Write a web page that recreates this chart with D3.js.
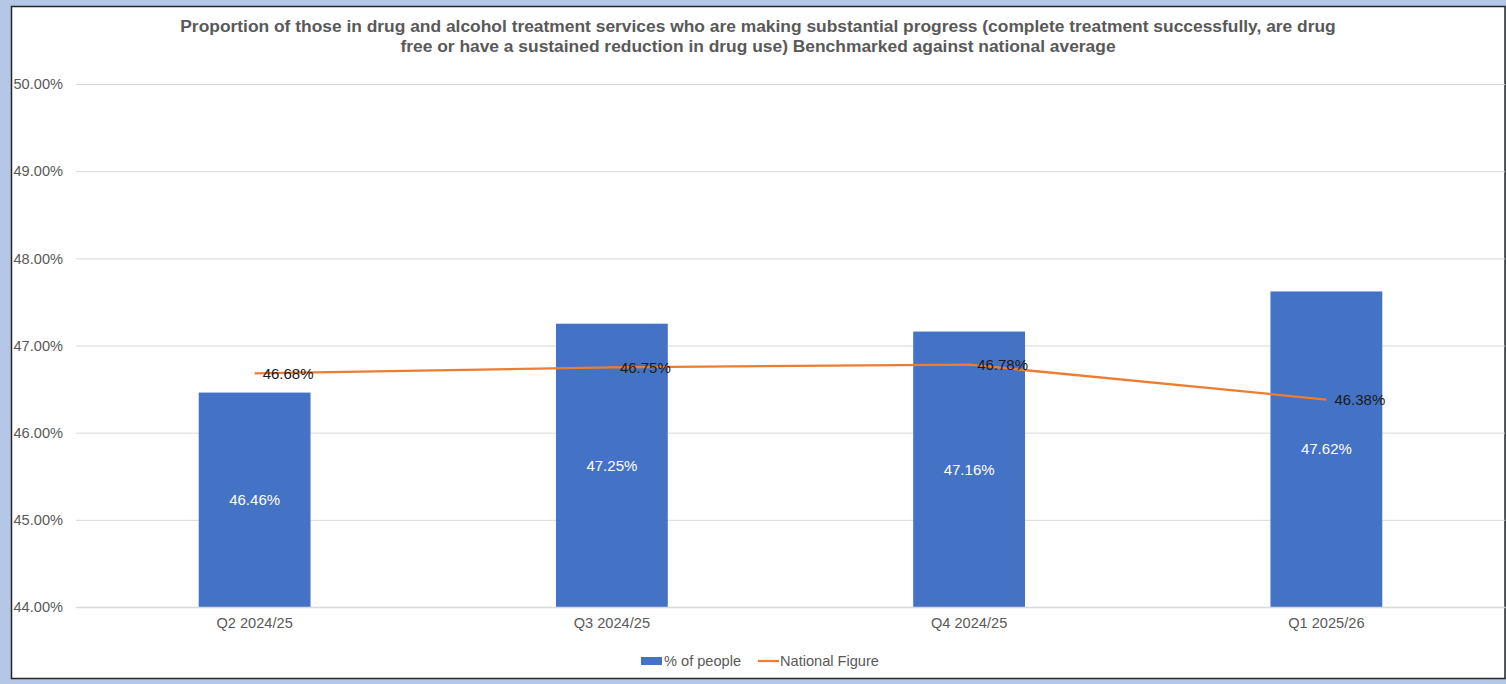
<!DOCTYPE html>
<html>
<head>
<meta charset="utf-8">
<script src="https://cdn.jsdelivr.net/npm/d3@7"></script>
<style>
  html, body { margin: 0; padding: 0; background: #b4c7e7; }
  svg { display: block; }
  text { font-family: "Liberation Sans", Arial, sans-serif; }
</style>
</head>
<body>
<svg id="chart" width="1506" height="684"></svg>
<script>
// Quarterly values
const categories = ["Q2 2024/25", "Q3 2024/25", "Q4 2024/25", "Q1 2025/26"];
const peopleValues = [46.46, 47.25, 47.16, 47.62];
const nationalValues = [46.68, 46.75, 46.78, 46.38];
const yTicks = [44, 45, 46, 47, 48, 49, 50];
const titleLines = [
  "Proportion of those in drug and alcohol treatment services who are making substantial progress (complete treatment successfully, are drug",
  "free or have a sustained reduction in drug use) Benchmarked against national average"
];
const seriesNames = ["% of people", "National Figure"];

const svg = d3.select("#chart");
const barColor = "#4472c4", lineColor = "#ed7d31", textGray = "#595959";
const fs = 14.6;

// Chart panel
svg.append("rect")
  .attr("x", 11.5).attr("y", 6.5)
  .attr("width", 1493.5).attr("height", 672)
  .attr("fill", "#fff").attr("stroke", "#262626").attr("stroke-width", 1.5);

const plot = { left: 76, right: 1505, top: 84, bottom: 607 };

const x = d3.scaleBand().domain(categories)
  .range([plot.left, plot.right]).paddingInner(0.687).paddingOuter(0.3435);
const xc = d => x(d) + x.bandwidth() / 2;
const y = d3.scaleLinear().domain([44, 50]).range([plot.bottom, plot.top]);
const fmt = v => v.toFixed(2) + "%";

// Title
svg.append("text")
  .attr("x", 758).attr("y", 32)
  .attr("text-anchor", "middle")
  .attr("font-size", 17.4).attr("font-weight", "bold").attr("fill", textGray)
  .selectAll("tspan").data(titleLines).join("tspan")
  .attr("x", 758).attr("dy", (d, i) => i === 0 ? 0 : 19.5)
  .text(d => d);

// Gridlines
const yAxis = d3.axisLeft(y).tickValues(yTicks)
  .tickSize(-(plot.right - plot.left)).tickFormat(fmt).tickPadding(13);
const gy = svg.append("g").attr("transform", `translate(${plot.left},0)`).call(yAxis);
gy.select(".domain").remove();
gy.selectAll(".tick line").attr("stroke", "#d9d9d9").attr("stroke-width", 1);
gy.selectAll(".tick text")
  .attr("fill", textGray).attr("font-size", fs)
  .attr("font-family", "Liberation Sans, Arial, sans-serif");

// Bars
svg.append("g").selectAll("rect").data(peopleValues).join("rect")
  .attr("x", (d, i) => x(categories[i]))
  .attr("width", x.bandwidth())
  .attr("y", d => y(d))
  .attr("height", d => y(44) - y(d))
  .attr("fill", barColor);

// Bar value labels
svg.append("g").selectAll("text").data(peopleValues).join("text")
  .attr("x", (d, i) => xc(categories[i]))
  .attr("y", d => (y(d) + y(44)) / 2)
  .attr("dy", "0.35em")
  .attr("text-anchor", "middle")
  .attr("font-size", 15).attr("fill", "#fff")
  .text(fmt);

// Category axis
const xAxis = d3.axisBottom(x).tickSize(0).tickPadding(11);
const gx = svg.append("g").attr("transform", `translate(0,${plot.bottom})`).call(xAxis);
gx.select(".domain").attr("stroke", "#d9d9d9").attr("stroke-width", 1.5);
gx.selectAll(".tick text")
  .attr("fill", textGray).attr("font-size", fs)
  .attr("font-family", "Liberation Sans, Arial, sans-serif");

// National figure line
const line = d3.line().x((d, i) => xc(categories[i])).y(d => y(d));
svg.append("path").datum(nationalValues)
  .attr("d", line).attr("fill", "none")
  .attr("stroke", lineColor).attr("stroke-width", 2.25);

svg.append("g").selectAll("text").data(nationalValues).join("text")
  .attr("x", (d, i) => xc(categories[i]) + 8)
  .attr("y", d => y(d))
  .attr("dy", "0.35em")
  .attr("font-size", 15).attr("fill", "#1a1a1a")
  .text(fmt);

// Legend
const leg = svg.append("g").attr("transform", "translate(0,661)");
leg.append("rect").attr("x", 641).attr("y", -4).attr("width", 21).attr("height", 8).attr("fill", barColor);
leg.append("text").attr("x", 664).attr("y", 0).attr("dy", "0.35em")
  .attr("font-size", fs).attr("fill", textGray).text(seriesNames[0]);
leg.append("line").attr("x1", 758).attr("x2", 779).attr("y1", 0).attr("y2", 0)
  .attr("stroke", lineColor).attr("stroke-width", 2.25);
leg.append("text").attr("x", 780).attr("y", 0).attr("dy", "0.35em")
  .attr("font-size", fs).attr("fill", textGray).text(seriesNames[1]);
</script>
</body>
</html>
